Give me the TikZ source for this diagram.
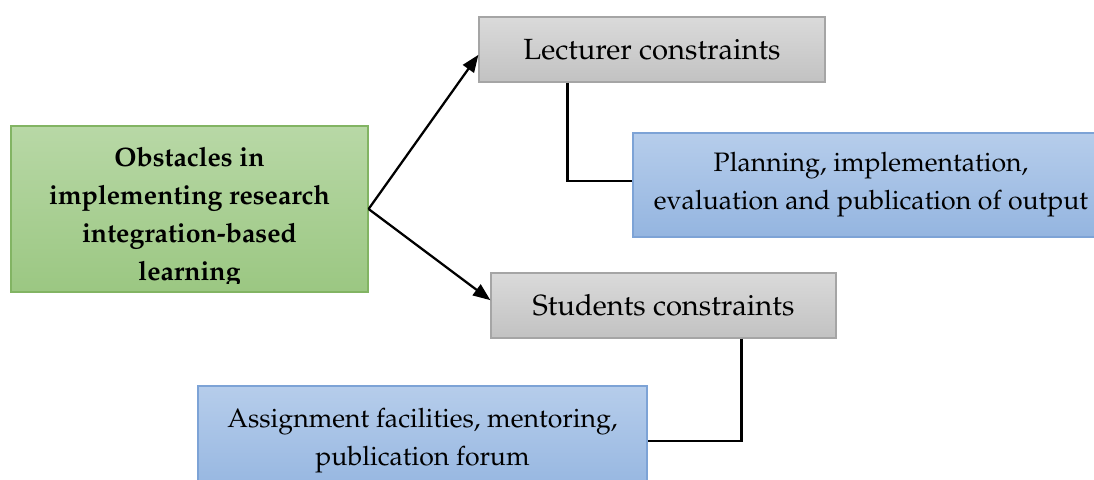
\documentclass[tikz,border=0pt]{standalone}
\usepackage[T1]{fontenc}
\usepackage{mathpazo}
\usetikzlibrary{arrows.meta}
\definecolor{greentop}{HTML}{B8D8A6}
\definecolor{greenbot}{HTML}{9BC782}
\definecolor{greenline}{HTML}{82B463}
\definecolor{graytop}{HTML}{DADADA}
\definecolor{graybot}{HTML}{C2C2C2}
\definecolor{grayline}{HTML}{A5A5A5}
\definecolor{bluetop}{HTML}{B6CDEB}
\definecolor{bluebot}{HTML}{94B5E0}
\definecolor{blueline}{HTML}{7DA3D6}
\tikzset{
  box/.style={line width=0.9pt, inner sep=0pt, align=center, font=\fontsize{20}{28.5}\selectfont},
  greenbox/.style={box, top color=greentop, bottom color=greenbot, draw=greenline},
  graybox/.style={box, top color=graytop, bottom color=graybot, draw=grayline, font=\fontsize{21.9}{28.5}\selectfont},
  bluebox/.style={box, top color=bluetop, bottom color=bluebot, draw=blueline},
  conn/.style={line width=1.7pt, black},
  arr/.style={conn, -{Triangle[length=13pt,width=10pt]}}
}
\begin{document}
\begin{tikzpicture}[x=0.75pt,y=-0.75pt]
\useasboundingbox (0,0) rectangle (1094,479);
\clip (0,0) rectangle (1094,479);
% boxes
\node[greenbox, minimum width=267.75pt, minimum height=124.5pt] (obst) at (189.5,209) {};
\begin{scope}
  \clip (11,126) rectangle (368,283);
  \node[box, font=\fontsize{20}{28.5}\selectfont\bfseries] (obsttext) at (189.5,217)
    {Obstacles in\\implementing research\\integration-based\\learning};
\end{scope}
\node[graybox, minimum width=259.5pt, minimum height=48.75pt] (lect) at (652,49.5) {Lecturer constraints};
\node[bluebox, minimum width=357pt, minimum height=78pt] (plan) at (871,185)
  {Planning, implementation,\\evaluation and publication of output};
\node[graybox, minimum width=258.75pt, minimum height=48.75pt] (stud) at (663.5,305.5) {Students constraints};
\node[bluebox, minimum width=336.75pt, minimum height=82.5pt] (assign) at (422.5,441)
  {Assignment facilities, mentoring,\\publication forum};
% connectors
\draw[arr] (obst.east) -- ([yshift=-4pt]lect.west);
\draw[arr] (obst.east) -- ([yshift=4pt]stud.west);
\draw[conn] ([xshift=66.75pt]lect.south west) |- ([yshift=3pt]plan.west);
\draw[conn] ([xshift=188.25pt]stud.south west) |- (assign.east);
\end{tikzpicture}
\end{document}
